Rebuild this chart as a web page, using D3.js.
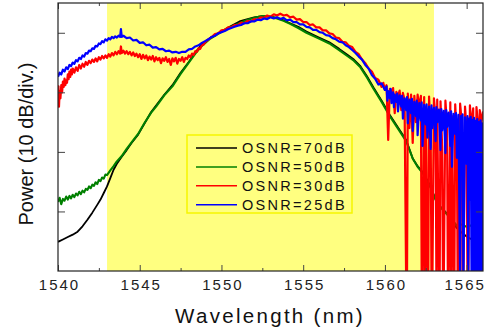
<!DOCTYPE html>
<html>
<head>
<meta charset="utf-8">
<script src="https://cdn.jsdelivr.net/npm/d3@7"></script>
<style>
  body { margin: 0; background: #fff; }
  svg { display: block; font-family: "Liberation Sans", Arial, sans-serif; }
  .tick line { stroke: #444; }
</style>
</head>
<body>
<div id="chart"></div>
<script>
// wavelength (nm), relative power (dB, 10 dB per division)
const xTicks = [1540, 1545, 1550, 1555, 1560, 1565];
const xMinor = [1542.5, 1547.5, 1552.5, 1557.5, 1562.5];
const yTicks = [10, 20, 30, 40];
const band = [1543, 1563];
const seriesNames = ['OSNR=70dB', 'OSNR=50dB', 'OSNR=30dB', 'OSNR=25dB'];
const seriesColors = ['#000000', '#008000', '#ff0000', '#0000ff'];

const osnr70 = [
  [1540.0,4.9],[1540.3,5.3],[1540.6,5.7],[1540.9,6.1],[1541.2,6.6],[1541.5,7.5],[1541.8,8.6],
  [1542.1,9.8],[1542.4,11.1],[1542.6,12.0],[1542.8,13.1],[1543.0,14.2],[1543.2,15.6],[1543.4,17.0],
  [1543.6,18.0],[1543.9,19.2],[1544.2,20.3],[1544.5,21.5],[1544.9,22.9],[1545.3,24.8],[1545.7,26.7],
  [1546.0,27.8],[1546.5,29.6],[1547.0,31.2],[1547.5,33.3],[1548.0,35.1],[1548.4,36.7],[1548.8,38.0],
  [1549.3,39.1],[1549.9,40.1],[1550.5,41.0],[1551.1,41.9],[1551.6,42.3],[1552.0,42.6],[1552.5,42.8],
  [1553.0,42.7],[1553.4,42.5],[1553.8,42.1],[1554.2,41.6],[1554.7,41.0],[1555.2,40.2],[1555.9,39.3],
  [1556.6,38.4],[1557.2,37.3],[1557.7,36.3],[1558.1,35.5],[1558.5,34.4],[1558.9,32.7],[1559.3,30.8],
  [1559.8,28.6],[1560.3,26.2],[1560.8,24.1],[1561.3,22.0],[1561.7,18.9],[1562.0,17.6],[1562.3,16.6],
  [1562.6,15.2],[1562.8,14.1],[1563.0,12.7],[1563.2,11.4],[1563.6,10.2],[1564.0,9.1],[1564.2,8.0],
  [1564.4,7.2],[1564.8,6.2],[1565.1,5.6],[1565.4,5.2],[1565.7,4.4],[1566.0,3.6]
];

const osnr50 = [
  [1540.0,11.6],[1540.1,12.3],[1540.2,11.2],[1540.3,12.1],[1540.4,11.8],[1540.5,12.5],[1540.6,12.0],
  [1540.7,12.6],[1540.8,12.2],[1540.9,12.8],[1541.0,12.4],[1541.1,13.0],[1541.2,12.7],[1541.3,13.3],
  [1541.4,12.9],[1541.5,13.5],[1541.6,13.2],[1541.7,13.8],[1541.8,13.6],[1541.9,14.2],[1542.0,13.9],
  [1542.1,14.5],[1542.2,14.3],[1542.3,14.9],[1542.4,14.6],[1542.5,15.3],[1542.6,15.1],[1542.7,15.7],
  [1542.8,15.5],[1542.9,16.2],[1543.0,16.1],[1543.2,16.9],[1543.4,17.6],[1543.6,18.4],[1543.9,19.3],
  [1544.2,20.5],[1544.5,21.6],[1544.9,23.0],[1545.3,24.9],[1545.7,26.6],[1546.0,27.6],[1546.5,29.5],
  [1547.0,31.0],[1547.5,33.1],[1548.0,35.0],[1548.4,36.5],[1548.8,37.8],[1549.3,39.0],[1549.9,40.0],
  [1550.5,40.9],[1551.1,41.6],[1551.6,42.2],[1552.0,42.5],[1552.5,42.8],[1553.0,42.7],[1553.4,42.4],
  [1553.8,42.0],[1554.2,41.5],[1554.7,40.8],[1555.2,40.0],[1555.9,39.1],[1556.6,38.2],[1557.2,37.1],
  [1557.7,36.1],[1558.1,35.3],[1558.5,34.2],[1558.9,32.5],[1559.3,30.6],[1559.8,28.4],[1560.3,26.0],
  [1560.8,23.9],[1561.3,21.8],[1561.7,18.9],[1562.0,17.5],[1562.3,16.5],[1562.6,15.0],[1562.8,14.0],
  [1563.0,12.6],[1563.2,11.3],[1563.6,10.1],[1564.0,8.9],[1564.2,8.3],[1564.4,7.6],[1564.7,7.8],
  [1565.0,7.4],[1565.3,7.7],[1565.6,7.3],[1566.0,7.5]
];

const osnr30 = [
  [1540.00,28.0],[1540.03,31.0],[1540.06,27.6],[1540.10,30.2],[1540.15,29.0],[1540.20,31.2],[1540.25,30.0],
  [1540.30,31.8],[1540.35,30.9],[1540.40,32.3],[1540.45,31.2],[1540.50,32.0],[1540.55,31.6],[1540.60,33.0],
  [1540.65,32.2],[1540.70,33.5],[1540.75,32.6],[1540.80,33.8],[1540.85,33.0],[1540.90,34.0],[1541.00,33.3],
  [1541.10,34.2],[1541.20,33.6],[1541.30,34.6],[1541.40,34.0],[1541.50,34.8],[1541.60,34.3],[1541.70,35.1],
  [1541.80,34.6],[1541.90,35.3],[1542.00,34.9],[1542.10,35.5],[1542.20,35.1],[1542.30,35.7],[1542.40,35.2],
  [1542.50,35.9],[1542.60,35.5],[1542.70,36.1],[1542.80,35.7],[1542.90,36.2],[1543.00,35.8],[1543.10,36.4],
  [1543.20,36.0],[1543.30,36.6],[1543.40,36.2],[1543.50,36.8],[1543.60,36.4],[1543.70,36.9],[1543.80,36.5],
  [1543.85,37.7],[1543.90,36.6],[1544.00,37.0],[1544.10,36.5],[1544.20,36.9],[1544.30,36.4],[1544.40,36.8],
  [1544.50,36.2],[1544.60,36.7],[1544.70,36.1],[1544.80,36.5],[1544.90,35.9],[1545.00,36.4],[1545.10,35.6],
  [1545.20,36.3],[1545.30,35.7],[1545.40,36.2],[1545.50,35.4],[1545.60,36.0],[1545.70,35.5],[1545.80,36.1],
  [1545.90,35.2],[1546.00,35.9],[1546.10,35.4],[1546.20,35.8],[1546.30,34.9],[1546.40,35.7],[1546.50,35.3],
  [1546.60,35.9],[1546.70,35.1],[1546.80,35.6],[1546.90,34.6],[1547.00,35.7],[1547.10,35.2],[1547.20,35.8],
  [1547.30,34.8],[1547.40,35.6],[1547.50,35.3],[1547.60,35.9],[1547.70,35.1],[1547.80,35.8],[1547.90,35.6],
  [1548.00,36.2],[1548.10,35.9],[1548.20,36.5],[1548.30,36.3],[1548.40,36.9],[1548.50,36.8],[1548.60,37.4],
  [1548.70,37.3],[1548.80,37.9],[1548.90,38.0],[1549.00,38.4],[1549.20,38.9],[1549.40,39.3],[1549.60,39.8],
  [1549.80,39.9],[1550.00,40.4],[1550.20,40.5],[1550.40,40.9],[1550.60,40.9],[1550.80,41.3],[1551.00,41.3],
  [1551.20,41.7],[1551.40,41.6],[1551.60,42.0],[1551.80,41.9],[1552.00,42.3],[1552.20,42.2],[1552.40,42.6],
  [1552.60,42.5],[1552.80,42.9],[1553.00,42.7],[1553.20,43.1],[1553.40,42.9],[1553.60,43.2],[1553.80,42.9],
  [1554.00,43.0],[1554.20,42.6],[1554.40,42.7],[1554.60,42.2],[1554.80,42.3],[1555.00,41.8],[1555.20,41.8],
  [1555.40,41.3],[1555.60,41.4],[1555.80,40.9],[1556.00,40.9],[1556.20,40.4],[1556.40,40.4],[1556.60,39.9],
  [1556.80,39.8],[1557.00,39.2],[1557.20,39.1],[1557.40,38.5],[1557.60,38.4],[1557.80,37.8],[1558.00,37.6],
  [1558.20,36.8],[1558.40,36.4],[1558.60,35.5],[1558.80,34.9],[1559.00,34.0],[1559.20,33.5],[1559.40,32.4],
  [1559.60,32.1],[1559.80,30.9],[1559.90,31.6],[1560.00,30.4],[1560.10,31.2],[1560.20,22.0],[1560.30,30.6],
  [1560.40,29.8],[1560.50,30.7],[1560.60,26.5],[1560.70,30.1],[1560.80,29.3],[1560.90,30.3],[1561.00,27.0],
  [1561.10,29.9],[1561.20,28.8],[1561.30,-2],[1561.35,-2],[1561.40,29.8],[1561.50,24.0],[1561.60,29.6],
  [1561.70,21.5],[1561.80,29.4],[1561.90,25.0],[1562.00,29.6],[1562.10,27.5],[1562.20,29.4],[1562.25,-2],
  [1562.30,-2],[1562.40,29.2],[1562.45,-2],[1562.50,26.0],[1562.60,-2],[1562.65,-2],[1562.70,29.3],
  [1562.80,23.0],[1562.85,-2],[1562.90,-2],[1563.00,29.0],[1563.10,25.5],[1563.15,-2],[1563.20,28.8],
  [1563.30,-2],[1563.35,-2],[1563.40,28.5],[1563.50,21.0],[1563.55,-2],[1563.60,-2],[1563.70,28.6],
  [1563.80,24.5],[1563.85,-2],[1563.90,-2],[1564.00,28.3],[1564.05,-2],[1564.10,26.0],[1564.20,-2],
  [1564.25,-2],[1564.30,28.0],[1564.40,22.0],[1564.45,-2],[1564.50,-2],[1564.60,28.1],[1564.70,25.0],
  [1564.75,-2],[1564.80,-2],[1564.90,27.6],[1565.00,23.5],[1565.05,-2],[1565.10,-2],[1565.20,27.8],
  [1565.30,24.0],[1565.40,27.3],[1565.45,-2],[1565.50,-2],[1565.60,27.5],[1565.70,24.5],[1565.75,-2],
  [1565.80,27.0],[1565.90,25.0],[1566.00,26.8]
];

const osnr25 = [
  [1540.00,32.6],[1540.10,33.3],[1540.20,33.0],[1540.30,33.8],[1540.40,33.5],[1540.50,34.2],[1540.60,33.9],
  [1540.70,34.6],[1540.80,34.4],[1540.90,35.0],[1541.00,34.8],[1541.10,35.4],[1541.20,35.2],[1541.30,35.8],
  [1541.40,35.6],[1541.50,36.2],[1541.60,36.0],[1541.70,36.6],[1541.80,36.5],[1541.90,37.0],[1542.00,36.9],
  [1542.10,37.4],[1542.20,37.3],[1542.30,37.8],[1542.40,37.7],[1542.50,38.2],[1542.60,38.1],[1542.70,38.6],
  [1542.80,38.4],[1542.90,38.9],[1543.00,38.7],[1543.10,39.1],[1543.20,38.9],[1543.30,39.3],[1543.40,39.1],
  [1543.50,39.4],[1543.60,39.2],[1543.70,39.5],[1543.80,39.3],[1543.85,40.6],[1543.90,39.3],[1544.00,39.5],
  [1544.20,39.1],[1544.40,39.2],[1544.60,38.7],[1544.80,38.8],[1545.00,38.3],[1545.20,38.4],[1545.40,37.9],
  [1545.60,38.0],[1545.80,37.5],[1546.00,37.6],[1546.20,37.2],[1546.40,37.3],[1546.60,36.9],[1546.80,37.0],
  [1547.00,36.7],[1547.20,36.8],[1547.40,36.6],[1547.60,36.8],[1547.80,36.8],[1548.00,37.2],[1548.20,37.3],
  [1548.40,37.7],[1548.60,37.9],[1548.80,38.3],[1549.00,38.6],[1549.20,38.9],[1549.40,39.3],[1549.60,39.5],
  [1549.80,39.9],[1550.00,40.1],[1550.20,40.3],[1550.40,40.6],[1550.60,40.8],[1550.80,41.0],[1551.00,41.2],
  [1551.20,41.3],[1551.40,41.6],[1551.60,41.6],[1551.80,41.9],[1552.00,41.9],[1552.20,42.2],[1552.40,42.1],
  [1552.60,42.4],[1552.80,42.3],[1553.00,42.6],[1553.20,42.4],[1553.40,42.6],[1553.60,42.3],[1553.80,42.5],
  [1554.00,42.1],[1554.20,42.2],[1554.40,41.8],[1554.60,41.8],[1554.80,41.4],[1555.00,41.4],[1555.20,41.0],
  [1555.40,40.9],[1555.60,40.5],[1555.80,40.5],[1556.00,40.1],[1556.20,40.0],[1556.40,39.6],[1556.60,39.5],
  [1556.80,39.1],[1557.00,38.9],[1557.20,38.5],[1557.40,38.4],[1557.60,37.9],[1557.80,37.6],[1558.00,37.1],
  [1558.20,36.6],[1558.40,36.0],[1558.60,35.5],[1558.80,34.6],[1559.00,34.0],[1559.20,32.9],[1559.40,32.3],
  [1559.60,31.3],[1559.80,31.5],[1560.00,30.4],[1560.10,31.0],[1560.15,28.6],[1560.20,30.2],[1560.30,29.0],
  [1560.35,30.6],[1560.40,28.2],[1560.50,30.0],[1560.55,27.5],[1560.60,29.6],[1560.70,28.4],[1560.75,29.8],
  [1560.80,26.8],[1560.90,29.5],[1561.00,27.6],[1561.05,29.4],[1561.10,25.6],[1561.20,29.0],[1561.30,27.0],
  [1561.35,29.2],[1561.40,24.8],[1561.50,28.8],[1561.60,26.5],[1561.65,28.9],[1561.70,23.5],[1561.80,28.4],
  [1561.90,26.0],[1561.95,28.6],[1562.00,22.8],[1562.10,28.2],[1562.20,25.3],[1562.25,28.3],[1562.30,21.0],
  [1562.40,27.9],[1562.50,24.6],[1562.55,28.0],[1562.60,22.4],[1562.70,27.6],[1562.80,20.5],[1562.85,27.8],
  [1562.90,24.0],[1563.00,27.4],[1563.10,21.8],[1563.15,27.5],[1563.20,25.0],[1563.30,27.1],[1563.40,20.3],
  [1563.45,27.2],[1563.50,23.6],[1563.60,26.9],[1563.70,19.8],[1563.75,27.0],[1563.80,24.2],[1563.90,26.6],
  [1564.00,21.0],[1564.05,26.8],[1564.10,17.5],[1564.20,26.4],[1564.30,23.0],[1564.35,26.5],[1564.40,19.0],
  [1564.50,26.2],[1564.60,-2],[1564.65,26.0],[1564.70,20.5],[1564.75,26.3],[1564.80,-2],[1564.90,25.8],
  [1565.00,18.0],[1565.05,26.0],[1565.10,-2],[1565.15,25.6],[1565.20,12.0],[1565.25,25.9],[1565.30,-2],
  [1565.35,25.4],[1565.40,-2],[1565.45,25.7],[1565.50,-2],[1565.55,25.2],[1565.60,-2],[1565.65,25.5],
  [1565.70,-2],[1565.75,25.0],[1565.80,-2],[1565.85,25.3],[1565.90,-2],[1565.95,24.8],[1566.00,-2]
];

const series = [osnr70, osnr50, osnr30, osnr25];
const strokeWidths = [1.8, 2.1, 2.2, 2.2];

const W = 486, H = 332;
const margin = { top: 3, right: 3, bottom: 61, left: 58 };
const width = W - margin.left - margin.right;
const height = H - margin.top - margin.bottom;

const svg = d3.select('#chart')
  .append('svg')
  .attr('width', W)
  .attr('height', H);

const g = svg.append('g')
  .attr('transform', `translate(${margin.left}, ${margin.top})`);

const x = d3.scaleLinear().domain([1540, 1566]).range([0, width]);
const y = d3.scaleLinear().domain([0, 45]).range([height, 0]);

// highlighted band
g.append('rect')
  .attr('x', x(band[0]))
  .attr('y', 0)
  .attr('width', x(band[1]) - x(band[0]))
  .attr('height', height)
  .attr('fill', '#ffff80');

g.append('clipPath')
  .attr('id', 'plotClip')
  .append('rect')
  .attr('width', width)
  .attr('height', height);

const line = d3.line()
  .x(d => x(d[0]))
  .y(d => y(d[1]));

g.append('g')
  .attr('clip-path', 'url(#plotClip)')
  .selectAll('path')
  .data(series)
  .enter()
  .append('path')
  .attr('d', line)
  .attr('fill', 'none')
  .attr('stroke', (d, i) => seriesColors[i])
  .attr('stroke-width', (d, i) => strokeWidths[i])
  .attr('stroke-linejoin', 'round');

// axes, ticks pointing inward
const bottom = g.append('g')
  .attr('transform', `translate(0, ${height})`)
  .call(d3.axisBottom(x).tickValues(xTicks).tickSize(-6).tickPadding(8).tickFormat(d3.format('d')));
bottom.selectAll('text')
  .attr('font-size', 15)
  .attr('letter-spacing', 2)
  .attr('dx', (d, i) => i === xTicks.length - 1 ? -2 : 1)
  .attr('fill', '#222')
  .attr('font-family', '"Liberation Sans", Arial, sans-serif');

g.append('g')
  .attr('transform', `translate(0, ${height})`)
  .call(d3.axisBottom(x).tickValues(xMinor).tickSize(-3).tickFormat(''));

g.append('g')
  .call(d3.axisTop(x).tickValues(xTicks).tickSize(-6).tickFormat(''));
g.append('g')
  .call(d3.axisTop(x).tickValues(xMinor).tickSize(-3).tickFormat(''));

g.append('g')
  .call(d3.axisLeft(y).tickValues(yTicks).tickSize(-7).tickFormat(''));
g.append('g')
  .attr('transform', `translate(${width}, 0)`)
  .call(d3.axisRight(y).tickValues(yTicks).tickSize(-7).tickFormat(''));

g.selectAll('.domain').remove();

g.append('rect')
  .attr('width', width)
  .attr('height', height)
  .attr('fill', 'none')
  .attr('stroke', '#222')
  .attr('stroke-width', 1.2);

// legend
const legend = g.append('g')
  .attr('transform', `translate(${187 - margin.left}, ${135 - margin.top})`);

legend.append('rect')
  .attr('width', 165)
  .attr('height', 78)
  .attr('fill', '#ffff80')
  .attr('stroke', '#f6f600')
  .attr('stroke-width', 1.5);

const rows = legend.selectAll('g.row')
  .data(seriesNames)
  .enter()
  .append('g')
  .attr('class', 'row')
  .attr('transform', (d, i) => `translate(0, ${13 + i * 18.9})`);

rows.append('line')
  .attr('x1', 9)
  .attr('x2', 50)
  .attr('stroke', (d, i) => seriesColors[i])
  .attr('stroke-width', 1.5);

rows.append('text')
  .attr('x', 55)
  .attr('y', 5)
  .attr('font-size', 14.5)
  .attr('letter-spacing', 2.3)
  .attr('fill', '#111')
  .text(d => d);

// axis titles
svg.append('text')
  .attr('x', 270)
  .attr('y', 323)
  .attr('text-anchor', 'middle')
  .attr('font-size', 20.5)
  .attr('letter-spacing', 2.3)
  .attr('fill', '#111')
  .text('Wavelength (nm)');

svg.append('text')
  .attr('transform', 'rotate(-90)')
  .attr('x', -144)
  .attr('y', 33)
  .attr('text-anchor', 'middle')
  .attr('font-size', 20)
  .attr('fill', '#111')
  .text('Power (10 dB/div.)');
</script>
</body>
</html>
